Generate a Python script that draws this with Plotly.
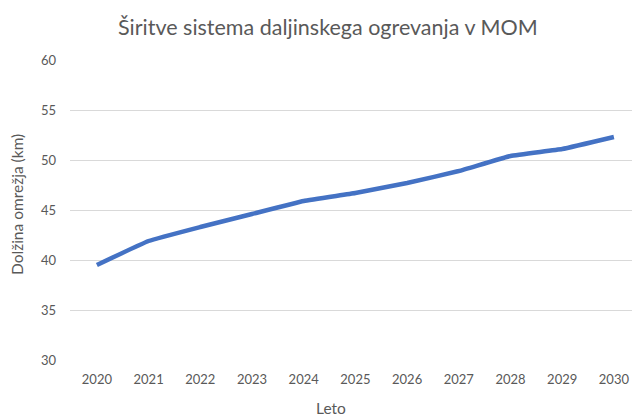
import plotly.graph_objects as go

years = [2020, 2021, 2022, 2023, 2024, 2025, 2026, 2027, 2028, 2029, 2030]
length_km = [39.5, 41.9, 43.3, 44.6, 45.9, 46.7, 47.7, 48.9, 50.4, 51.1, 52.3]
y_ticks = [30, 35, 40, 45, 50, 55, 60]

title_text = "Širitve sistema daljinskega ogrevanja v MOM"
x_title = "Leto"
y_title = "Dolžina omrežja (km)"

FONT = "Lato, Carlito, Calibri, sans-serif"
GREY = "#595959"

fig = go.Figure()
fig.add_trace(go.Scatter(
    x=years, y=length_km, mode="lines",
    line=dict(color="#4472C4", width=4.5, shape="spline", smoothing=0.3),
    hoverinfo="x+y", showlegend=False,
))

fig.update_layout(
    width=632, height=417,
    margin=dict(l=70, r=0, t=60, b=57),
    paper_bgcolor="white", plot_bgcolor="white",
    font=dict(family=FONT, color=GREY, size=13),
    xaxis=dict(
        range=[2019.48, 2030.35], tickmode="array", tickvals=years,
        ticktext=[str(y) for y in years], showgrid=False, zeroline=False,
        showline=False, ticks="", tickfont=dict(size=13, color=GREY),
        ticklabelstandoff=10, fixedrange=True,
    ),
    yaxis=dict(
        range=[30, 60], tickmode="array", tickvals=y_ticks,
        showgrid=True, gridcolor="#D9D9D9", gridwidth=1, zeroline=False,
        showline=False, ticks="", ticklabelstandoff=13,
        tickfont=dict(size=13, color=GREY), fixedrange=True,
    ),
    annotations=[
        dict(text=title_text, x=328, y=27, showarrow=False,
             font=dict(size=21.5, color=GREY, family=FONT)),
        dict(text=x_title, x=331, y=408, showarrow=False,
             font=dict(size=15.5, color=GREY, family=FONT)),
        dict(text=y_title, x=17, y=205, textangle=-90, showarrow=False,
             font=dict(size=15.5, color=GREY, family=FONT)),
    ],
)

# convert pixel positions of annotations to paper coordinates
W, H = 632, 417
l, r, t, b = 70, 0, 60, 57
pw, ph = W - l - r, H - t - b
new_ann = []
for a in fig.layout.annotations:
    px, py = a.x, a.y
    a.update(xref="paper", yref="paper",
             x=(px - l) / pw, y=1 - (py - t) / ph,
             xanchor="center", yanchor="middle")
    new_ann.append(a)
fig.layout.annotations = new_ann

fig.write_html("out.html", config={"displayModeBar": False},
               post_script="document.body.style.margin='0';document.body.style.overflow='hidden';")
